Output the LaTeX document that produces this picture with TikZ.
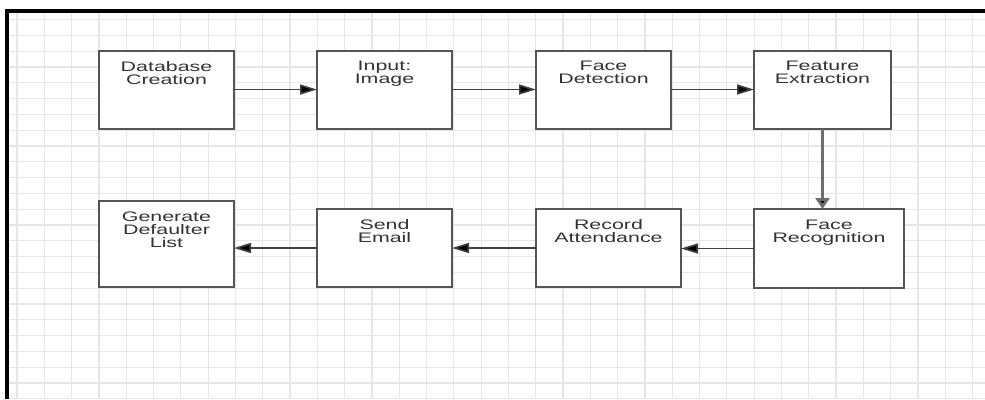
\documentclass[tikz,border=0pt]{standalone}
\usepackage{fontspec}
\usetikzlibrary{arrows.meta}
\newfontfamily\boxfont[FakeStretch=1.55]{Liberation Sans}
\definecolor{gridc}{HTML}{E6E6E6}
\definecolor{edgec}{HTML}{555555}
\definecolor{linkc}{HTML}{404040}
\definecolor{txtc}{HTML}{333333}
\definecolor{vlinkc}{HTML}{6E6E6E}
\tikzset{
  gridline/.style={draw=gridc, line width=1.2},
  frameline/.style={draw=black, line width=4},
  box/.style={draw=edgec, line width=2, fill=white, rectangle,
    inner sep=0, outer sep=0},
  lbl/.style={anchor=north, align=center, inner sep=10.5, text=txtc,
    font=\boxfont\fontsize{13.8}{13}\selectfont},
  hlink/.style={draw=linkc, line width=1.6,
    -{Triangle[length=17,width=10,fill=black]}},
  vlink/.style={draw=vlinkc, line width=3,
    -{Triangle[length=11,width=14,fill=black]}},
}
\begin{document}
\begin{tikzpicture}[x=1pt, y=-1pt]
  \useasboundingbox[fill=white] (0,0) rectangle (985,399);

  % squared paper
  \foreach \i in {0,...,35} {
    \draw[gridline] ({17+27.3*\i},12) -- ++(0,387);
  }
  \foreach \j in {0,...,24} {
    \draw[gridline] (9,{19.6+15.8*\j}) -- ++(976,0);
  }

  % sheet border (top and left)
  \draw[frameline] (7,399) -- (7,10.5) -- (985,10.5);

  % first row of steps
  \node[box, minimum width=135, minimum height=78,
        label={[lbl]north:Database\\Creation}] (db) at (166.5,89.5) {};
  \node[box, minimum width=135, minimum height=78,
        label={[lbl]north:Input:\\Image}] (inp) at (384.5,89.5) {};
  \node[box, minimum width=135, minimum height=78,
        label={[lbl]north:Face\\Detection}] (fd) at (603.5,89.5) {};
  \node[box, minimum width=137, minimum height=78,
        label={[lbl]north:Feature\\Extraction}] (fe) at (822.5,89.5) {};

  % second row of steps
  \node[box, minimum width=150, minimum height=79,
        label={[lbl]north:Face\\Recognition}] (fr) at (829,248.5) {};
  \node[box, minimum width=145, minimum height=78,
        label={[lbl]north:Record\\Attendance}] (ra) at (608.5,248) {};
  \node[box, minimum width=135, minimum height=78,
        label={[lbl]north:Send\\Email}] (se) at (384.5,248) {};
  \node[box, minimum width=135, minimum height=86,
        label={[lbl]north:Generate\\Defaulter\\List}] (gd) at (166.5,244) {};

  % flow between the steps
  \draw[hlink] (db.east) -- (inp.west);
  \draw[hlink] (inp.east) -- (fd.west);
  \draw[hlink] (fd.east) -- (fe.west);
  \draw[vlink] (fe.south) -- (fe.south |- fr.north);
  \draw[hlink] (fr.west) -- (fr.west -| ra.east);
  \draw[hlink] (ra.west) -- (se.east);
  \draw[hlink] (se.west) -- (se.west -| gd.east);
\end{tikzpicture}
\end{document}
